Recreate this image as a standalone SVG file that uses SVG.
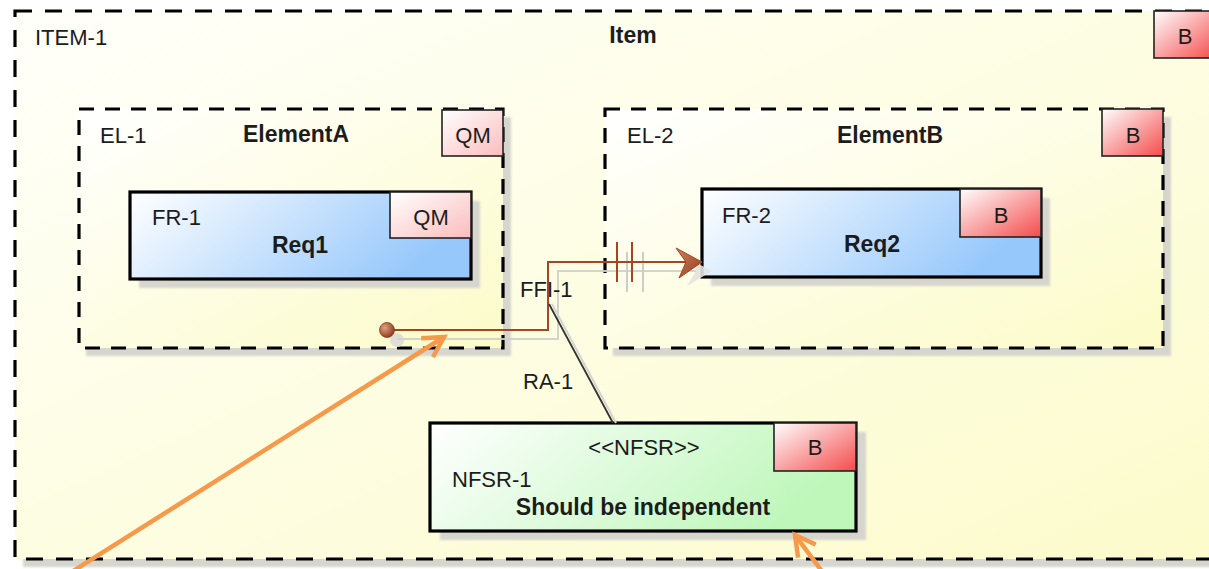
<svg xmlns="http://www.w3.org/2000/svg" width="1209" height="569" viewBox="0 0 1209 569">
<defs>
<style>
text{font-family:"Liberation Sans",Arial,sans-serif;fill:#1c1c1c;font-size:22px}
.b{font-weight:bold;font-size:23px}
.c{text-anchor:middle}
.dashItem{fill:none;stroke:#000;stroke-width:3.2;stroke-dasharray:17 13}
.dashEl{fill:none;stroke:#000;stroke-width:3.2;stroke-dasharray:15 11}
.box{stroke:#000;stroke-width:3.2}
.badge{stroke:#222;stroke-width:1.6}
.shadow{fill:#d6d6ce}
.orange{fill:none;stroke:#f7994a;stroke-width:4.5;marker-end:url(#open)}
</style>
<linearGradient id="gY" x1="0" y1="0" x2="1" y2="1"><stop offset="0" stop-color="#ffffff"/><stop offset="1" stop-color="#fcfbc8"/></linearGradient>
<linearGradient id="gItem" x1="0" y1="0" x2="1" y2="1"><stop offset="0" stop-color="#fffffa"/><stop offset="1" stop-color="#fcfbcb"/></linearGradient>
<linearGradient id="gBlue" x1="0" y1="0" x2="1" y2="0.3"><stop offset="0" stop-color="#ffffff"/><stop offset="1" stop-color="#97c8fb"/></linearGradient>
<linearGradient id="gGreen" x1="0" y1="0" x2="1" y2="0.3"><stop offset="0" stop-color="#ffffff"/><stop offset="1" stop-color="#bff7bb"/></linearGradient>
<linearGradient id="gQM" x1="0" y1="0" x2="1" y2="1"><stop offset="0" stop-color="#ffffff"/><stop offset="1" stop-color="#fbbcbc"/></linearGradient>
<linearGradient id="gB" x1="0" y1="0" x2="1" y2="1"><stop offset="0" stop-color="#ffffff"/><stop offset="1" stop-color="#f44b4b"/></linearGradient>
<radialGradient id="gBall" cx="0.35" cy="0.35" r="0.7"><stop offset="0" stop-color="#e0a080"/><stop offset="1" stop-color="#8c3a1a"/></radialGradient>
<linearGradient id="gHead" x1="0" y1="0" x2="1" y2="1"><stop offset="0" stop-color="#d08060"/><stop offset="1" stop-color="#943e1c"/></linearGradient>
<filter id="soft" x="-5%" y="-5%" width="110%" height="110%"><feGaussianBlur stdDeviation="1"/></filter>
<marker id="open" markerUnits="userSpaceOnUse" markerWidth="30" markerHeight="30" refX="24" refY="12" orient="auto" viewBox="0 0 30 24">
<path d="M4,1 L24,12 L4,23" fill="none" stroke="#f7994a" stroke-width="4.5" stroke-linejoin="miter"/>
</marker>
</defs>

<rect width="1209" height="569" fill="#ffffff"/>

<g id="item-1">
<rect class="shadow" x="23" y="19" width="1200" height="548" filter="url(#soft)"/>
<rect x="15" y="11" width="1210" height="548" fill="url(#gItem)"/>
<rect class="dashItem" x="15" y="11" width="1210" height="548"/>
<rect class="badge" x="1154" y="11" width="62" height="47" fill="url(#gB)"/>
<text x="35" y="45">ITEM-1</text>
<text class="b c" x="633" y="43">Item</text>
<text class="c" x="1185" y="44">B</text>
</g>

<g id="el-1">
<rect class="shadow" x="86" y="117" width="425" height="239" filter="url(#soft)"/>
<rect x="79" y="109" width="424" height="239" fill="url(#gY)"/>
<rect class="dashEl" x="79" y="109" width="424" height="239"/>
<rect class="badge" x="442" y="110" width="61" height="46" fill="url(#gQM)"/>
<text x="100" y="143">EL-1</text>
<text class="b c" x="296" y="142">ElementA</text>
<text class="c" x="473" y="143">QM</text>
</g>

<g id="el-2">
<rect class="shadow" x="613" y="117" width="558" height="239" filter="url(#soft)"/>
<rect x="605" y="109" width="558" height="239" fill="url(#gY)"/>
<rect class="dashEl" x="605" y="109" width="558" height="239"/>
<rect class="badge" x="1102" y="109" width="61" height="47" fill="url(#gB)"/>
<text x="627" y="143">EL-2</text>
<text class="b c" x="890" y="143">ElementB</text>
<text class="c" x="1133" y="143">B</text>
</g>

<g id="fr-1">
<rect class="shadow" x="139" y="201" width="341" height="87" filter="url(#soft)"/>
<rect class="box" x="130" y="192" width="341" height="87" fill="url(#gBlue)"/>
<rect class="badge" x="390" y="192" width="81" height="46" fill="url(#gQM)"/>
<text x="152" y="225">FR-1</text>
<text class="b c" x="300" y="253">Req1</text>
<text class="c" x="431" y="225">QM</text>
</g>

<g id="fr-2">
<rect class="shadow" x="711" y="198" width="339" height="88" filter="url(#soft)"/>
<rect class="box" x="702" y="189" width="339" height="88" fill="url(#gBlue)"/>
<rect class="badge" x="960" y="189" width="81" height="48" fill="url(#gB)"/>
<text x="722" y="223">FR-2</text>
<text class="b c" x="872" y="252">Req2</text>
<text class="c" x="1001" y="223">B</text>
</g>

<g id="nfsr-1">
<rect class="shadow" x="440" y="432" width="426" height="108" filter="url(#soft)"/>
<rect class="box" x="430" y="423" width="426" height="108" fill="url(#gGreen)"/>
<rect class="badge" x="774" y="423" width="82" height="48" fill="url(#gB)"/>
<text class="c" x="644" y="455">&lt;&lt;NFSR&gt;&gt;</text>
<text x="452" y="487">NFSR-1</text>
<text class="b c" x="643" y="515">Should be independent</text>
<text class="c" x="815" y="455">B</text>
</g>

<g id="connectors">
<g id="ffi-1-shadow" opacity="0.9">
<circle cx="397" cy="340" r="7" fill="#dcdcd6"/>
<polyline points="397,339 558,339 558,271 700,271" fill="none" stroke="#d0d0cc" stroke-width="2"/>
<line x1="627" y1="252" x2="627" y2="292" stroke="#c8c8c4" stroke-width="2"/>
<line x1="643" y1="252" x2="643" y2="292" stroke="#c8c8c4" stroke-width="2"/>
<path d="M712,271 L687,258 L696,271 L687,286 Z" fill="#e4e4e0"/>
</g>
<g id="ffi-1">
<polyline points="387,330 548,330 548,262 690,262" fill="none" stroke="#a5461f" stroke-width="2"/>
<line x1="617" y1="242" x2="617" y2="282" stroke="#a5461f" stroke-width="2"/>
<line x1="632" y1="242" x2="632" y2="282" stroke="#a5461f" stroke-width="2"/>
<path d="M702,262 L676,248 L686,262 L679,278 Z" fill="url(#gHead)" stroke="#a5461f" stroke-width="1"/>
<circle cx="387" cy="330" r="7.5" fill="url(#gBall)" stroke="#8a3a1a" stroke-width="0.8"/>
<text x="520" y="297">FFI-1</text>
</g>
<g id="ra-1">
<line x1="552" y1="304" x2="616" y2="423" stroke="#d4d4d0" stroke-width="2"/>
<line x1="549" y1="304" x2="613" y2="423" stroke="#333" stroke-width="1.8"/>
<text x="523" y="389">RA-1</text>
</g>
</g>

<g id="annotations">
<line class="orange" x1="70" y1="573" x2="444" y2="337"/>
<line class="orange" x1="824" y1="574" x2="795" y2="535"/>
</g>
</svg>
